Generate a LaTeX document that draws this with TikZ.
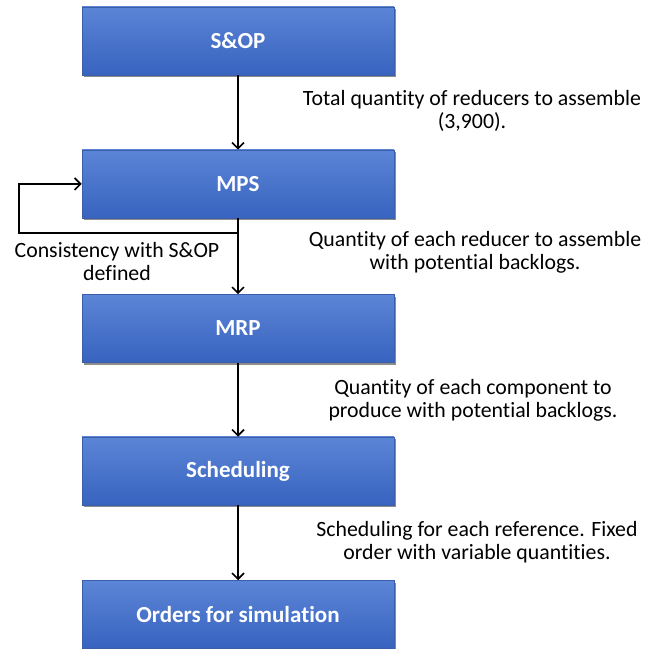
\documentclass[tikz,border=0pt]{standalone}
\usepackage{fontspec}
\setmainfont{Carlito}[Ligatures={NoCommon}]
\usetikzlibrary{arrows.meta,shadows}
\definecolor{boxtop}{HTML}{5B85D6}
\definecolor{boxbot}{HTML}{3863BF}
\definecolor{boxedge}{HTML}{3A5EA8}
\tikzset{
  procbox/.style={rectangle, minimum width=312pt, minimum height=68pt, inner sep=0pt,
    top color=boxtop, bottom color=boxbot, draw=boxedge, line width=0.5pt,
    drop shadow={shadow xshift=1.5pt, shadow yshift=-2.5pt, opacity=0.45, fill=black},
    text=white, font=\fontsize{23}{26}\selectfont\bfseries},
  flow/.style={draw=black, line width=1.6pt, -{Straight Barb[length=6pt,width=12pt]}},
  lbl/.style={inner sep=0pt, anchor=base, font=\fontsize{21.8}{23}\selectfont}
}
\begin{document}
\begin{tikzpicture}[x=1pt,y=1pt]
\useasboundingbox (0,0) rectangle (647,649);
\node[procbox] (sop) at (238,608) {S\&OP};
\node[procbox] (mps) at (238,465) {MPS};
\node[procbox] (mrp) at (238,320.5) {MRP};
\node[procbox] (sch) at (238,178) {Scheduling};
\node[procbox] (ord) at (238,34.5) {Orders for simulation};

\coordinate (j) at (238,416);
\coordinate (lb) at (19,416);
\coordinate (lt) at (19,465);

\draw[flow] (sop.south) -- (mps.north);
\draw[flow] (mps.south) -- (mrp.north);
\draw[flow] (mrp.south) -- (sch.north);
\draw[flow] (sch.south) -- (ord.north);
\draw[flow] (j) -- (lb) -- (lt) -- (mps.west);

\node[lbl] (l1) at (472,543) {\tabcolsep=0pt\begin{tabular}[t]{c}Total quantity of reducers to assemble\\(3,900).\end{tabular}};
\node[lbl] (l2) at (475,402) {\tabcolsep=0pt\begin{tabular}[t]{c}Quantity of each reducer to assemble\\with potential backlogs.\end{tabular}};
\node[lbl] (l3) at (473,254) {\tabcolsep=0pt\begin{tabular}[t]{c}Quantity of each component to\\produce with potential backlogs.\end{tabular}};
\node[lbl] (l4) at (477,112) {\tabcolsep=0pt\begin{tabular}[t]{c}Scheduling for each reference. Fixed\\order with variable quantities.\end{tabular}};
\node[lbl] (l5) at (117,391) {\tabcolsep=0pt\begin{tabular}[t]{c}Consistency with S\&OP\\defined\end{tabular}};
\end{tikzpicture}
\end{document}
